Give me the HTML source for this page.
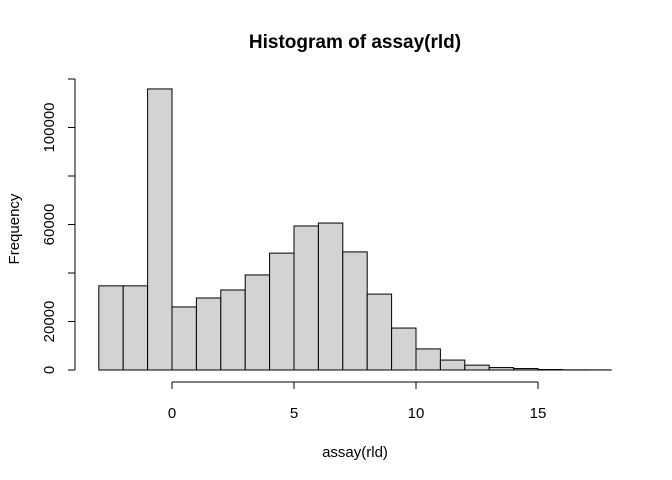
<!DOCTYPE html>
<html><head><meta charset="utf-8"><style>body{margin:0;background:#fff}svg{display:block;font-family:"Liberation Sans",Arial,sans-serif}</style></head>
<body>
<svg id="c" width="672" height="480">
<text x="355" y="48" text-anchor="middle" font-weight="bold" font-size="19">Histogram of assay(rld)</text>
<text x="355" y="457" text-anchor="middle" font-size="15">assay(rld)</text>
<text transform="translate(19,229) rotate(-90)" text-anchor="middle" font-size="15">Frequency</text>
<g id="bars"></g><g id="axes"></g>
</svg>
<script>
const binStarts=[-3,-2,-1,0,1,2,3,4,5,6,7,8,9,10,11,12,13,14,15,16,17];
const counts=[34700,34700,115900,26000,29700,33000,39200,48200,59400,60600,48700,31300,17300,8700,4100,2000,1000,600,200,60,40];
const xTicks=[0,5,10,15];
const yTicks=[0,20000,40000,60000,80000,100000,120000];
const yLabels=["0","20000","","60000","","100000",""];
const xs=v=>172+v*24.4, ys=v=>370-v*0.002425;
const NS="http://www.w3.org/2000/svg";
const bars=document.getElementById('bars'), axes=document.getElementById('axes');
function mk(tag,attrs,parent){const e=document.createElementNS(NS,tag);for(const k in attrs)e.setAttribute(k,attrs[k]);parent.appendChild(e);return e;}
binStarts.forEach((b,i)=>{
 const r=mk('rect',{x:xs(b),y:ys(counts[i]),width:24.4,height:370-ys(counts[i]),fill:'#d3d3d3',stroke:'#000','stroke-width':1},bars);
 
 
});
let l=mk('line',{x1:xs(xTicks[0]),x2:xs(xTicks[xTicks.length-1]),y1:382,y2:382,stroke:'#000'},axes);


xTicks.forEach(t=>{
 mk('line',{x1:xs(t),x2:xs(t),y1:382,y2:389,stroke:'#000'},axes);
 const tx=mk('text',{x:xs(t),y:418,'text-anchor':'middle','font-size':15},axes);tx.textContent=t;
 
 
});
l=mk('line',{x1:75,x2:75,y1:ys(yTicks[0]),y2:ys(yTicks[yTicks.length-1]),stroke:'#000'},axes);


yTicks.forEach((t,i)=>{
 mk('line',{x1:68,x2:75,y1:ys(t),y2:ys(t),stroke:'#000'},axes);
 if(yLabels[i]){const tx=mk('text',{transform:`translate(54,${ys(t)}) rotate(-90)`,'text-anchor':'middle','font-size':15},axes);tx.textContent=yLabels[i];
 
 }
});
</script>
</body></html>
